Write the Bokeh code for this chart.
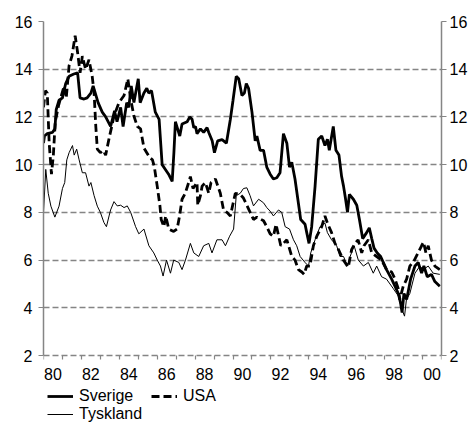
from bokeh.plotting import figure
from bokeh.models import FixedTicker, LinearAxis, Range1d, Legend, LegendItem
from bokeh.embed import file_html
from bokeh.resources import INLINE

# ---- data ----
sverige_t = [1980.0, 1980.05, 1980.2, 1980.47, 1980.6, 1980.67, 1980.82, 1981.0, 1981.17, 1981.35,
             1981.6, 1981.8, 1981.93, 1982.14, 1982.3, 1982.5, 1982.62, 1982.88, 1983.1, 1983.28,
             1983.54, 1983.75, 1983.88, 1984.07, 1984.2, 1984.39, 1984.5, 1984.63, 1984.77, 1985.0,
             1985.1, 1985.3, 1985.45, 1985.55, 1985.7, 1985.9, 1986.1, 1986.26, 1986.43, 1986.6,
             1986.79, 1986.88, 1986.96, 1987.19, 1987.31, 1987.58, 1987.72, 1987.84, 1987.93, 1988.02,
             1988.1, 1988.28, 1988.45, 1988.63, 1988.72, 1988.9, 1989.02, 1989.19, 1989.42, 1989.65,
             1989.86, 1990.0, 1990.17, 1990.3, 1990.47, 1990.6, 1990.7, 1990.82, 1991.0, 1991.17,
             1991.26, 1991.43, 1991.61, 1991.78, 1991.96, 1992.13, 1992.31, 1992.48, 1992.66, 1992.84,
             1992.98, 1993.1, 1993.27, 1993.57, 1993.8, 1993.89, 1994.01, 1994.15, 1994.33, 1994.5,
             1994.68, 1994.85, 1994.98, 1995.08, 1995.29, 1995.43, 1995.59, 1995.73, 1995.83, 1995.93,
             1996.04, 1996.14, 1996.35, 1996.53, 1996.67, 1996.84, 1997.05, 1997.19, 1997.32, 1997.44,
             1997.61, 1997.79, 1998.1, 1998.37, 1998.55, 1998.72, 1998.84, 1998.92, 1999.02, 1999.16,
             1999.37, 1999.6, 1999.77, 1999.95, 2000.07, 2000.25, 2000.47, 2000.65, 2000.91]
sverige = [10.9, 11.2, 11.3, 11.35, 11.5, 12.3, 12.7, 12.8, 13.4, 13.7,
           13.8, 13.85, 12.8, 12.75, 12.8, 13.0, 13.3, 12.6, 12.2, 12.0,
           11.6, 12.25, 11.8, 12.4, 11.6, 12.6, 12.4, 13.3, 12.6, 13.6,
           12.6, 13.0, 13.2, 13.0, 13.1, 12.2, 11.9, 10.0, 9.8, 9.6,
           9.3, 10.5, 11.8, 11.2, 11.7, 11.8, 12.0, 11.9, 11.55, 11.6,
           11.3, 11.5, 11.35, 11.55, 11.35, 11.0, 10.5, 11.0, 11.05, 10.9,
           11.9, 12.7, 13.7, 13.6, 12.9, 13.0, 13.4, 13.2, 12.2, 11.0,
           11.2, 10.6, 10.6, 9.9, 9.6, 9.4, 9.45, 9.66, 11.3, 10.9,
           9.9, 10.1, 9.4, 7.7, 7.5, 7.15, 6.7, 7.4, 9.1, 11.06,
           11.2, 10.8, 11.06, 10.6, 11.6, 10.6, 10.4, 9.5, 9.1, 8.6,
           8.0, 8.75, 8.55, 8.3, 7.7, 6.9, 7.15, 7.35, 6.9, 6.5,
           6.3, 6.15, 5.6, 5.2, 4.9, 4.6, 4.2, 3.8, 4.6, 4.35,
           5.2, 5.75, 5.9, 5.45, 5.75, 5.3, 5.4, 5.1, 4.9]

usa_t = [1980.0, 1980.1, 1980.2, 1980.3, 1980.42, 1980.52, 1980.62, 1980.8, 1981.09, 1981.2,
         1981.35, 1981.5, 1981.67, 1981.8, 1981.93, 1982.05, 1982.22, 1982.4, 1982.57, 1982.67,
         1982.76, 1982.84, 1983.0, 1983.15, 1983.28, 1983.45, 1983.6, 1983.72, 1983.98, 1984.25,
         1984.45, 1984.6, 1984.77, 1984.95, 1985.12, 1985.3, 1985.45, 1985.6, 1985.75, 1985.85,
         1986.0, 1986.14, 1986.21, 1986.35, 1986.45, 1986.61, 1986.87, 1987.05, 1987.18, 1987.31,
         1987.48, 1987.66, 1987.75, 1987.89, 1988.1, 1988.14, 1988.28, 1988.37, 1988.54, 1988.72,
         1988.84, 1989.07, 1989.33, 1989.5, 1989.68, 1989.86, 1990.12, 1990.38, 1990.55, 1990.73,
         1991.08, 1991.26, 1991.61, 1991.78, 1991.96, 1992.13, 1992.27, 1992.52, 1992.66, 1992.84,
         1993.1, 1993.27, 1993.45, 1993.63, 1993.75, 1993.89, 1994.06, 1994.24, 1994.42, 1994.68,
         1994.85, 1994.98, 1995.2, 1995.38, 1995.56, 1995.82, 1996.08, 1996.26, 1996.44, 1996.6,
         1996.79, 1996.91, 1997.14, 1997.32, 1997.58, 1997.84, 1998.1, 1998.37, 1998.55, 1998.72,
         1998.8, 1998.98, 1999.16, 1999.33, 1999.54, 1999.95, 2000.05, 2000.18, 2000.3, 2000.47,
         2000.65, 2000.91]
usa = [12.4, 13.1, 13.0, 10.9, 9.6, 10.4, 11.8, 12.5, 13.3, 12.8,
       14.15, 14.55, 15.4, 14.7, 13.85, 14.55, 14.0, 14.4, 13.7, 13.0,
       11.6, 10.65, 10.5, 10.6, 10.4, 11.06, 11.6, 12.04, 12.6, 12.9,
       13.6, 12.75, 12.04, 11.6, 11.5, 10.7, 10.5, 10.3, 10.2, 9.9,
       9.1, 8.3, 7.7, 7.4, 7.85, 7.3, 7.2, 7.3, 7.85, 8.55,
       8.8, 9.25, 9.5, 9.0, 9.25, 8.3, 8.7, 9.1, 9.25, 8.8,
       9.25, 9.4, 8.8, 8.1, 8.0, 7.85, 8.8, 8.75, 8.6, 8.3,
       7.7, 7.8, 7.65, 7.4, 7.1, 7.0, 7.5, 6.6, 6.7, 6.85,
       6.15, 6.0, 5.6, 5.5, 5.4, 5.75, 5.75, 6.6, 7.0, 7.4,
       7.85, 7.55, 7.15, 6.7, 6.45, 6.0, 5.7, 6.45, 6.7, 6.85,
       6.3, 6.6, 6.85, 6.3, 6.15, 6.0, 5.6, 5.5, 5.2, 4.8,
       4.35, 4.9, 5.2, 5.75, 5.95, 6.6, 6.75, 6.3, 6.6, 6.0,
       5.75, 5.6]

tyskland_t = [1980.0, 1980.12, 1980.25, 1980.39, 1980.6, 1980.82, 1981.0, 1981.12, 1981.23, 1981.35,
              1981.53, 1981.62, 1981.75, 1981.88, 1982.05, 1982.22, 1982.4, 1982.5, 1982.67, 1982.84,
              1983.0, 1983.19, 1983.32, 1983.46, 1983.54, 1983.72, 1983.89, 1984.07, 1984.25, 1984.42,
              1984.6, 1984.86, 1985.03, 1985.3, 1985.56, 1985.82, 1986.0, 1986.17, 1986.31, 1986.49,
              1986.7, 1986.87, 1987.14, 1987.31, 1987.49, 1987.75, 1987.93, 1988.19, 1988.45, 1988.72,
              1988.89, 1989.15, 1989.42, 1989.6, 1989.82, 1990.03, 1990.17, 1990.38, 1990.55, 1990.73,
              1990.9, 1991.08, 1991.35, 1991.61, 1991.78, 1991.96, 1992.13, 1992.4, 1992.57, 1992.75,
              1992.98, 1993.19, 1993.36, 1993.54, 1993.8, 1993.98, 1994.1, 1994.33, 1994.59, 1994.85,
              1994.98, 1995.2, 1995.47, 1995.64, 1995.83, 1996.04, 1996.18, 1996.39, 1996.61, 1996.88,
              1997.14, 1997.4, 1997.58, 1997.84, 1998.1, 1998.46, 1998.72, 1998.9, 1999.05, 1999.15,
              1999.33, 1999.6, 1999.86, 2000.04, 2000.3, 2000.56, 2000.91]
tyskland = [8.0, 9.8, 8.8, 8.26, 7.8, 8.26, 9.0, 9.25, 10.2, 10.5,
            10.8, 10.4, 10.65, 10.2, 9.66, 9.66, 9.1, 9.25, 8.7, 8.26,
            8.0, 7.57, 7.4, 7.85, 8.1, 8.45, 8.27, 8.3, 8.2, 8.27,
            8.0, 7.4, 7.1, 7.3, 6.6, 6.3, 6.0, 5.75, 5.33, 6.0,
            5.45, 6.0, 5.9, 5.6, 6.0, 6.7, 6.3, 6.15, 6.6, 6.7,
            6.3, 6.85, 6.85, 6.6, 7.0, 7.3, 8.7, 8.8, 9.0, 9.03,
            8.7, 8.27, 8.55, 8.4, 8.2, 8.05, 7.85, 8.1, 8.0, 7.4,
            7.3, 6.85, 6.6, 6.15, 5.9, 5.75, 6.3, 6.85, 7.4, 7.55,
            7.15, 6.85, 6.6, 6.15, 6.15, 5.75, 6.15, 6.6, 6.0, 5.75,
            5.9, 5.45, 5.75, 5.3, 5.2, 4.8, 4.5, 3.95, 3.65, 4.35,
            4.6, 5.45, 5.75, 5.6, 5.75, 5.45, 5.4]

y_ticks = [2, 4, 6, 8, 10, 12, 14, 16]
x_label_pos = [1980.5, 1982.5, 1984.5, 1986.5, 1988.5, 1990.5, 1992.5, 1994.5, 1996.5, 1998.5, 2000.5]
x_labels = ["80", "82", "84", "86", "88", "90", "92", "94", "96", "98", "00"]
year_ticks = list(range(1980, 2002))

FONT = "Liberation Sans"
GRAY = "#858585"

# the frame reaches the canvas bottom so the legend (drawn inside it) is not clipped;
# the value axes end at 2 and the time axis is pinned at y = 2
p = figure(frame_width=398, frame_height=402, output_backend="svg", toolbar_location=None,
           x_range=Range1d(1980, 2001), y_range=Range1d(-0.85, 16),
           min_border_left=43, min_border_right=30, min_border_top=21, min_border_bottom=0)
p.outline_line_color = None
p.background_fill_color = "white"
p.border_fill_color = "white"

p.xgrid.visible = False
p.ygrid.ticker = FixedTicker(ticks=y_ticks)
p.ygrid.grid_line_color = GRAY
p.ygrid.grid_line_width = 1.5
p.ygrid.grid_line_dash = "6 3"

# x axis
xa = p.xaxis[0]
xa.fixed_location = 2
xa.ticker = FixedTicker(ticks=x_label_pos, minor_ticks=year_ticks)
xa.major_label_overrides = {pos: lab for pos, lab in zip(x_label_pos, x_labels)}
xa.major_tick_out = 0
xa.major_tick_in = 0
xa.minor_tick_out = 4
xa.minor_tick_in = 0
xa.minor_tick_line_color = GRAY
xa.minor_tick_line_width = 1.2
xa.axis_line_color = None
xa.major_label_standoff = 8
xa.major_label_text_font = FONT
xa.major_label_text_font_size = "16px"
xa.major_label_text_color = "black"

def style_y(ax, standoff):
    ax.ticker = FixedTicker(ticks=y_ticks, minor_ticks=[])
    ax.bounds = (2, 16)
    ax.major_tick_out = 5
    ax.major_tick_in = 0
    ax.minor_tick_out = 0
    ax.minor_tick_in = 0
    ax.major_tick_line_color = GRAY
    ax.major_tick_line_width = 1.2
    ax.axis_line_color = GRAY
    ax.axis_line_width = 1.5
    ax.major_label_standoff = standoff
    ax.major_label_text_font = FONT
    ax.major_label_text_font_size = "16px"
    ax.major_label_text_color = "black"

style_y(p.yaxis[0], 6)
ry = LinearAxis()
style_y(ry, 3)
p.add_layout(ry, "right")

r_t = p.line(tyskland_t, tyskland, line_color="black", line_width=1)
r_u = p.line(usa_t, usa, line_color="black", line_width=2.8, line_dash="8 4")
r_s = p.line(sverige_t, sverige, line_color="black", line_width=2.8)

legend = Legend(items=[LegendItem(label="Sverige", renderers=[r_s]),
                       LegendItem(label="USA", renderers=[r_u]),
                       LegendItem(label="Tyskland", renderers=[r_t])],
                orientation="horizontal", ncols=2, location=(4, 0),
                glyph_width=26, glyph_height=16, label_standoff=6, label_width=72,
                label_height=16, spacing=0, padding=0, margin=0,
                border_line_color=None, background_fill_alpha=0,
                label_text_font=FONT, label_text_font_size="16px", label_text_color="black")
p.add_layout(legend)

open("out.html", "w").write(file_html(p, INLINE))
